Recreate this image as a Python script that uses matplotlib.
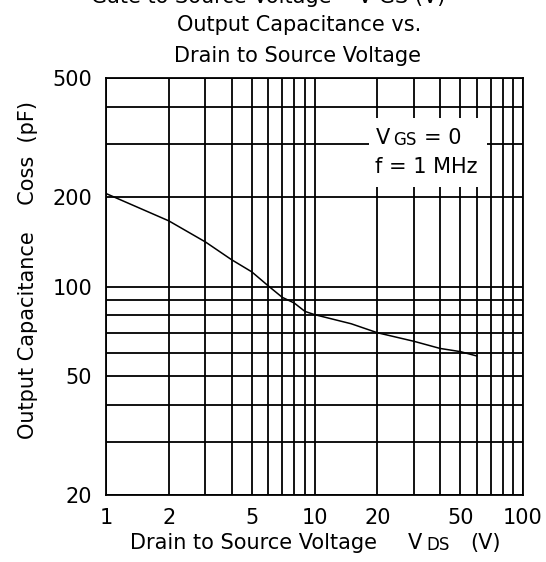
import matplotlib
matplotlib.use("Agg")
import matplotlib.pyplot as plt
from matplotlib.patches import Rectangle

# ---- data ----
vds = [1, 2, 3, 4, 5, 6, 7, 8, 9, 10, 15, 20, 30, 40, 50, 60]
coss = [205, 166, 141, 123, 112, 100.5, 92, 88, 82.5, 80.5, 75, 70, 65.5, 62, 60.5, 58.5]

x_major = [1, 2, 5, 10, 20, 50, 100]
x_major_labels = ["1", "2", "5", "10", "20", "50", "100"]
x_minor = [3, 4, 6, 7, 8, 9, 30, 40, 60, 70, 80, 90]
y_major = [20, 50, 100, 200, 500]
y_major_labels = ["20", "50", "100", "200", "500"]
y_minor = [30, 40, 60, 70, 80, 90, 300, 400]

W, H = 546, 562
plt.rcParams['font.family'] = ['DejaVu Sans']
FS = 15
FSS = 12

fig = plt.figure(figsize=(W / 100, H / 100), dpi=100)
fig.patch.set_facecolor('white')

def fx(px):
    return px / W

def fy(py):
    return 1 - py / H

ax = fig.add_axes([fx(106), fy(495), fx(523) - fx(106), (495 - 78) / H])
ax.set_xscale('log')
ax.set_yscale('log')
ax.set_xlim(1, 100)
ax.set_ylim(20, 500)

ax.set_xticks(x_major)
ax.set_xticklabels(x_major_labels)
ax.set_xticks(x_minor, minor=True)
ax.set_xticklabels([], minor=True)
ax.set_yticks(y_major)
ax.set_yticklabels(y_major_labels)
ax.set_yticks(y_minor, minor=True)
ax.set_yticklabels([], minor=True)
ax.tick_params(which='both', length=0, labelsize=FS, colors='black')
ax.tick_params(axis='x', pad=9)
ax.tick_params(axis='y', pad=10)

ax.set_axisbelow(True)
ax.grid(True, which='both', color='black', linewidth=1.3)
for s in ax.spines.values():
    s.set_linewidth(1.3)
    s.set_color('black')

ax.plot(vds, coss, color='black', linewidth=1.1, zorder=3)

# white legend box covering grid
box = Rectangle((fx(369), fy(187)), fx(487) - fx(369), (187 - 118) / H,
                transform=fig.transFigure, facecolor='white', edgecolor='none', zorder=5)
fig.patches.append(box)

fig.text(fx(376), fy(138), "V", fontsize=FS, va='center', ha='left', zorder=6)
fig.text(fx(393), fy(140), "GS", fontsize=FSS, va='center', ha='left', zorder=6)
fig.text(fx(424), fy(138), "= 0", fontsize=FS, va='center', ha='left', zorder=6)
fig.text(fx(375), fy(167), "f = 1 MHz", fontsize=FS, va='center', ha='left', zorder=6)

# titles
fig.text(fx(268), fy(3), "Gate to Source Voltage    V GS (V)", fontsize=FS,
         ha='center', va='baseline')
fig.text(fx(299), fy(25), "Output Capacitance vs.", fontsize=FS, ha='center', va='center')
fig.text(fx(297), fy(56), "Drain to Source Voltage", fontsize=FS, ha='center', va='center')

# axis labels
fig.text(fx(28), fy(270), "Output Capacitance    Coss  (pF)", fontsize=FS,
         rotation=90, ha='center', va='center')
fig.text(fx(253), fy(543), "Drain to Source Voltage", fontsize=FS, ha='center', va='center')
fig.text(fx(408), fy(543), "V", fontsize=FS, ha='left', va='center')
fig.text(fx(426), fy(545), "DS", fontsize=FSS, ha='left', va='center')
fig.text(fx(470), fy(543), "(V)", fontsize=FS, ha='left', va='center')

fig.savefig("out.png", dpi=100, facecolor='white')
